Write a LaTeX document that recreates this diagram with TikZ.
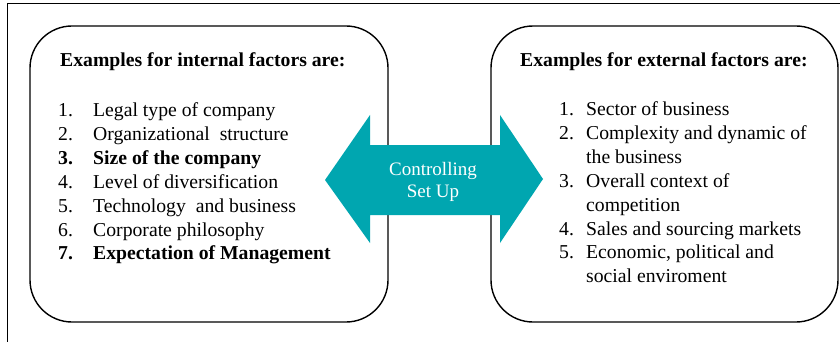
\documentclass[tikz,border=0pt]{standalone}
\usepackage{fontspec}
\setmainfont{Liberation Serif}
\definecolor{teal1}{RGB}{0,166,176}
\begin{document}
\begin{tikzpicture}[x=1pt,y=-1pt,
  box/.style={draw=black,line width=1.4pt,rounded corners=42pt},
  txt/.style={anchor=base west,inner sep=0pt,font=\fontsize{19.7}{23.8}\selectfont},
  btxt/.style={txt,font=\fontsize{19.7}{23.8}\selectfont\bfseries},
  atxt/.style={anchor=base,inner sep=0pt,text=white,font=\fontsize{19}{22}\selectfont}]
\useasboundingbox (0,0) rectangle (840,342);
\fill[white] (0,0) rectangle (840,342);
% outer frame
\draw[line width=1.2pt] (840,3.3) -- (7.5,3.3) -- (7.5,342);
% boxes
\draw[box] (30,26) rectangle (388,322);
\draw[box] (491,26) rectangle (838,322);
% arrow
\fill[teal1] (325,180) -- (370,115) -- (370,145) -- (500,145) -- (500,115) -- (543,179)
  -- (500,243) -- (500,215) -- (370,215) -- (370,243) -- cycle;
\node[atxt] (c1) at (433,175) {Controlling};
\node[atxt] (c2) at (433,197) {Set Up};
% left box text
\node[btxt] (lh) at (60,67) {Examples for internal factors are:};
\node[txt] (l1n) at (58,116.5) {1.};  \node[txt] (l1) at (93,116.5) {Legal type of company};
\node[txt] (l2n) at (58,140.4) {2.};  \node[txt] (l2) at (93,140.4) {Organizational\ \ structure};
\node[btxt] (l3n) at (58,164.3) {3.}; \node[btxt] (l3) at (93,164.3) {Size of the company};
\node[txt] (l4n) at (58,188.2) {4.};  \node[txt] (l4) at (93,188.2) {Level of diversification};
\node[txt] (l5n) at (58,212.1) {5.};  \node[txt] (l5) at (93,212.1) {Technology\ \ and business};
\node[txt] (l6n) at (58,236.0) {6.};  \node[txt] (l6) at (93,236.0) {Corporate philosophy};
\node[btxt] (l7n) at (58,259.9) {7.}; \node[btxt] (l7) at (93,259.9) {Expectation of Management};
% right box text
\node[btxt] (rh) at (520,67) {Examples for external factors are:};
\node[txt] (r1n) at (559,116) {1.};  \node[txt] (r1) at (586,116) {Sector of business};
\node[txt] (r2n) at (559,139.8) {2.};  \node[txt] (r2) at (586,139.8) {Complexity and dynamic of};
\node[txt] (r2b) at (586,163.6) {the business};
\node[txt] (r3n) at (559,187.4) {3.};  \node[txt] (r3) at (586,187.4) {Overall context of};
\node[txt] (r3b) at (586,211.2) {competition};
\node[txt] (r4n) at (559,235.0) {4.};  \node[txt] (r4) at (586,235.0) {Sales and sourcing markets};
\node[txt] (r5n) at (559,258.8) {5.};  \node[txt] (r5) at (586,258.8) {Economic, political and};
\node[txt] (r5b) at (586,282.6) {social enviroment};
\end{tikzpicture}
\end{document}
